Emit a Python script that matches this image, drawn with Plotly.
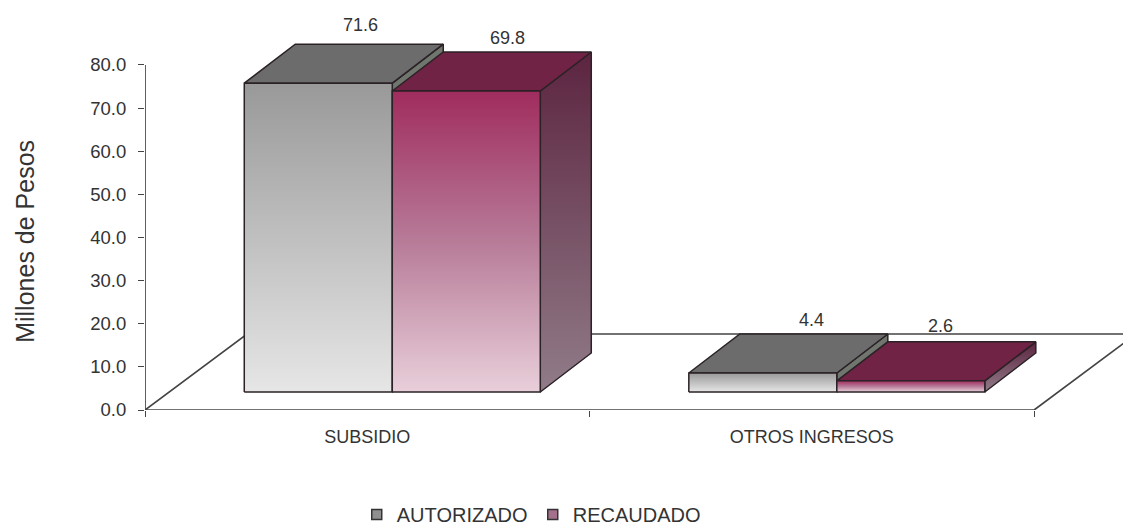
import plotly.graph_objects as go

categories = ["SUBSIDIO", "OTROS INGRESOS"]
autorizado = [71.6, 4.4]
recaudado = [69.8, 2.6]
y_ticks = [0, 10, 20, 30, 40, 50, 60, 70, 80]
y_tick_labels = ["0.0", "10.0", "20.0", "30.0", "40.0", "50.0", "60.0", "70.0", "80.0"]
axis_title = "Millones de Pesos"

W, H = 1123, 525
L, R, T, B = 145, 0, 10, 115
X_MIN, X_MAX = -0.5, 1.7
Y_MIN, Y_MAX = 0, 92.75
PX = (W - L - R) / (X_MAX - X_MIN)
PY = (H - T - B) / (Y_MAX - Y_MIN)

# pseudo-3D geometry in axis units
BAR_W = 148 / PX
BAR_START = -123 / PX
BASE = 18 / PY
DX, DY = 51 / PX, 39 / PY
FLOOR_DX, FLOOR_DY = 102 / PX, 76 / PY
# value-label offsets from the front-top centre of each bar, in pixels: [series][category]
LABEL_OFFSETS = {
    "AUTORIZADO": [(42, 58), (49, 53)],
    "RECAUDADO": [(41, 53), (30, 55)],
}

STROKE = "#2a2226"
FONT = "Liberation Sans, Arial, sans-serif"
TXT = "#333333"

STYLE = {
    "AUTORIZADO": dict(
        front=[[0, "#e6e6e6"], [1, "#999999"]],
        top="#6c6c6c",
        side=[[0, "#70756e"], [1, "#70756e"]],
        legend="#8f8f8f",
    ),
    "RECAUDADO": dict(
        front=[[0, "#e9cfda"], [0.5, "#b77b98"], [1, "#a02c5e"]],
        top="#702345",
        side=[[0, "#917c89"], [1, "#5c2440"]],
        legend="#a5708c",
    ),
}

fig = go.Figure()


def poly(xs, ys, color=None, scale=None, width=1.5):
    kw = dict(x=xs + xs[:1], y=ys + ys[:1], mode="lines", fill="toself",
              line=dict(color=STROKE, width=width), showlegend=False, hoverinfo="skip")
    if scale:
        kw["fillgradient"] = dict(type="vertical", colorscale=scale)
    else:
        kw["fillcolor"] = color
    fig.add_trace(go.Scatter(**kw))


def line(xs, ys):
    fig.add_trace(go.Scatter(x=xs, y=ys, mode="lines", line=dict(color="#444444", width=1.7),
                             showlegend=False, hoverinfo="skip"))


# axis lines and floor
line([X_MIN, X_MIN], [0, 80])
line([X_MIN, 1.5], [0, 0])
line([X_MIN, X_MIN + FLOOR_DX, X_MAX + 0.1], [0, FLOOR_DY, FLOOR_DY])
line([1.5, 1.5 + FLOOR_DX], [0, FLOOR_DY])

# bars
for series_idx, (name, values) in enumerate([("AUTORIZADO", autorizado), ("RECAUDADO", recaudado)]):
    s = STYLE[name]
    for cat_idx, v in enumerate(values):
        x0 = cat_idx + BAR_START + series_idx * BAR_W
        x1 = x0 + BAR_W
        y0, y1 = BASE, BASE + v
        poly([x1, x1 + DX, x1 + DX, x1], [y0, y0 + DY, y1 + DY, y1], scale=s["side"])
        poly([x0, x1, x1 + DX, x0 + DX], [y1, y1, y1 + DY, y1 + DY], color=s["top"])
        poly([x0, x1, x1, x0], [y0, y0, y1, y1], scale=s["front"])
        ox, oy = LABEL_OFFSETS[name][cat_idx]
        fig.add_annotation(x=(x0 + x1) / 2 + ox / PX, y=y1 + oy / PY, text=f"{v:.1f}",
                           showarrow=False, font=dict(family=FONT, size=18, color=TXT))
    fig.add_trace(go.Scatter(x=[None], y=[None], mode="markers", name=name,
                             marker=dict(symbol="square", size=10, color=s["legend"],
                                         line=dict(color="#333333", width=1.5))))

fig.add_annotation(xref="paper", yref="y", x=(25 - L) / (W - L - R), y=39, text=axis_title, textangle=-90,
                   xanchor="center", yanchor="middle",
                   showarrow=False, font=dict(size=25, family=FONT, color=TXT))

fig.update_layout(
    width=W, height=H, margin=dict(l=L, r=R, t=T, b=B, pad=0, autoexpand=False),
    paper_bgcolor="white", plot_bgcolor="white",
    font=dict(family=FONT, color=TXT),
    xaxis=dict(range=[X_MIN, X_MAX], tickvals=[0, 1], ticktext=categories, ticks="",
               ticklabelstandoff=14, showgrid=False, zeroline=False, showline=False,
               tickfont=dict(size=18, family=FONT, color=TXT),
               minor=dict(tickvals=[-0.5, 0.5, 1.5], ticks="outside", ticklen=6, tickcolor="#444444",
                          tickwidth=1.3, showgrid=False)),
    yaxis=dict(range=[Y_MIN, Y_MAX], tickvals=y_ticks, ticktext=y_tick_labels, ticks="outside",
               ticklen=6, tickcolor="#444444", tickwidth=1.3, showgrid=False, zeroline=False,
               showline=False, ticklabelstandoff=8, tickfont=dict(size=18.5, family=FONT, color=TXT)),
    legend=dict(orientation="h", x=0.2165, xanchor="left", y=0.02, yanchor="middle",
                entrywidth=131, entrywidthmode="pixels",
                xref="paper", yref="container", font=dict(size=20, family=FONT, color=TXT)),
)

fig.write_html("out.html", config={"displayModeBar": False},
               post_script="document.body.style.margin='0';")
